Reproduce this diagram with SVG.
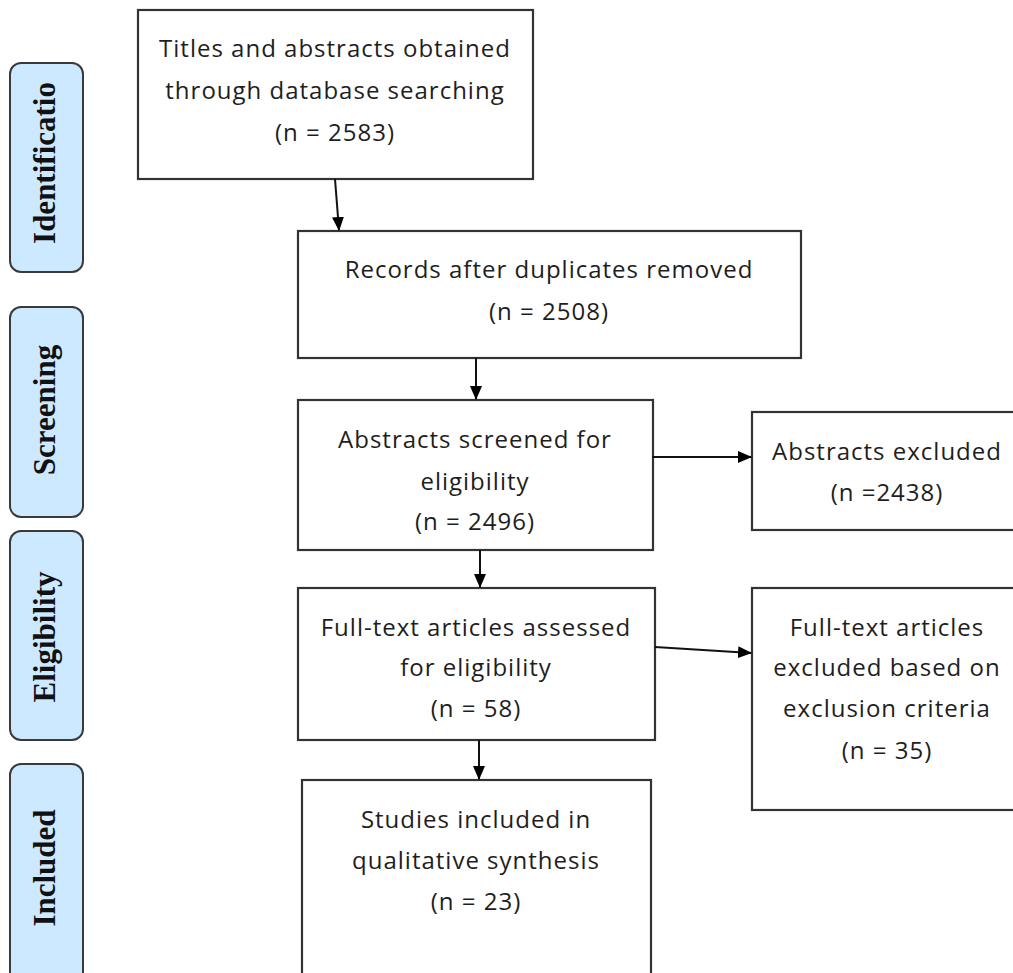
<svg xmlns="http://www.w3.org/2000/svg" width="1013" height="973" viewBox="0 0 1013 973">
<style>
.box{fill:#fff;stroke:#333;stroke-width:2.2}
.side{fill:#cce9ff;stroke:#3a3a3a;stroke-width:2}
.t{font-family:"Open Sans","Liberation Sans",sans-serif;font-size:24px;letter-spacing:1px;fill:#1e1e1e;text-anchor:middle}
.s{font-family:"Liberation Serif",serif;font-weight:bold;font-size:31px;fill:#111;text-anchor:middle}
.c{stroke:#111;stroke-width:2;fill:none;marker-end:url(#ah)}
</style>
<defs>
<marker id="ah" markerWidth="14" markerHeight="14" refX="13" refY="6" orient="auto" markerUnits="userSpaceOnUse">
<path d="M0,0 L14,6 L0,12 Z" fill="#000"/>
</marker>
</defs>
<rect width="1013" height="973" fill="#fff"/>
<g id="side-identification"><rect class="side" x="10" y="63" width="73" height="209" rx="11"/><text class="s" transform="translate(55,163) rotate(-90)">Identificatio</text></g>
<g id="side-screening"><rect class="side" x="10" y="307" width="73" height="210" rx="11"/><text class="s" transform="translate(55,410) rotate(-90)">Screening</text></g>
<g id="side-eligibility"><rect class="side" x="10" y="531" width="73" height="209" rx="11"/><text class="s" transform="translate(55,637) rotate(-90)">Eligibility</text></g>
<g id="side-included"><rect class="side" x="10" y="764" width="73" height="230" rx="11"/><text class="s" transform="translate(55,868) rotate(-90)">Included</text></g>
<g id="n1"><rect class="box" x="138" y="10" width="395" height="169"/>
<text class="t" x="335" y="57">Titles and abstracts obtained</text>
<text class="t" x="335" y="99">through database searching</text>
<text class="t" x="335" y="141">(n = 2583)</text></g>
<g id="n2"><rect class="box" x="298" y="231" width="503" height="127"/>
<text class="t" x="549" y="278">Records after duplicates removed</text>
<text class="t" x="549" y="320">(n = 2508)</text></g>
<g id="n3"><rect class="box" x="298" y="400" width="355" height="150"/>
<text class="t" x="475" y="448">Abstracts screened for</text>
<text class="t" x="475" y="490">eligibility</text>
<text class="t" x="475" y="530">(n = 2496)</text></g>
<g id="n4"><rect class="box" x="752" y="412" width="280" height="118"/>
<text class="t" x="887" y="460">Abstracts excluded</text>
<text class="t" x="887" y="501">(n =2438)</text></g>
<g id="n5"><rect class="box" x="298" y="588" width="357" height="152"/>
<text class="t" x="476" y="636">Full-text articles assessed</text>
<text class="t" x="476" y="676">for eligibility</text>
<text class="t" x="476" y="717">(n = 58)</text></g>
<g id="n6"><rect class="box" x="752" y="588" width="280" height="222"/>
<text class="t" x="887" y="636">Full-text articles</text>
<text class="t" x="887" y="676">excluded based on</text>
<text class="t" x="887" y="717">exclusion criteria</text>
<text class="t" x="887" y="759">(n = 35)</text></g>
<g id="n7"><rect class="box" x="302" y="780" width="349" height="220"/>
<text class="t" x="476" y="828">Studies included in</text>
<text class="t" x="476" y="869">qualitative synthesis</text>
<text class="t" x="476" y="910">(n = 23)</text></g>
<g id="connectors">
<line class="c" x1="335" y1="179" x2="339" y2="230"/>
<line class="c" x1="476" y1="358" x2="476" y2="399"/>
<line class="c" x1="652" y1="457" x2="751" y2="457"/>
<line class="c" x1="480" y1="550" x2="480" y2="587"/>
<line class="c" x1="655" y1="647" x2="751" y2="653"/>
<line class="c" x1="479" y1="740" x2="479" y2="779"/>
</g>
</svg>
